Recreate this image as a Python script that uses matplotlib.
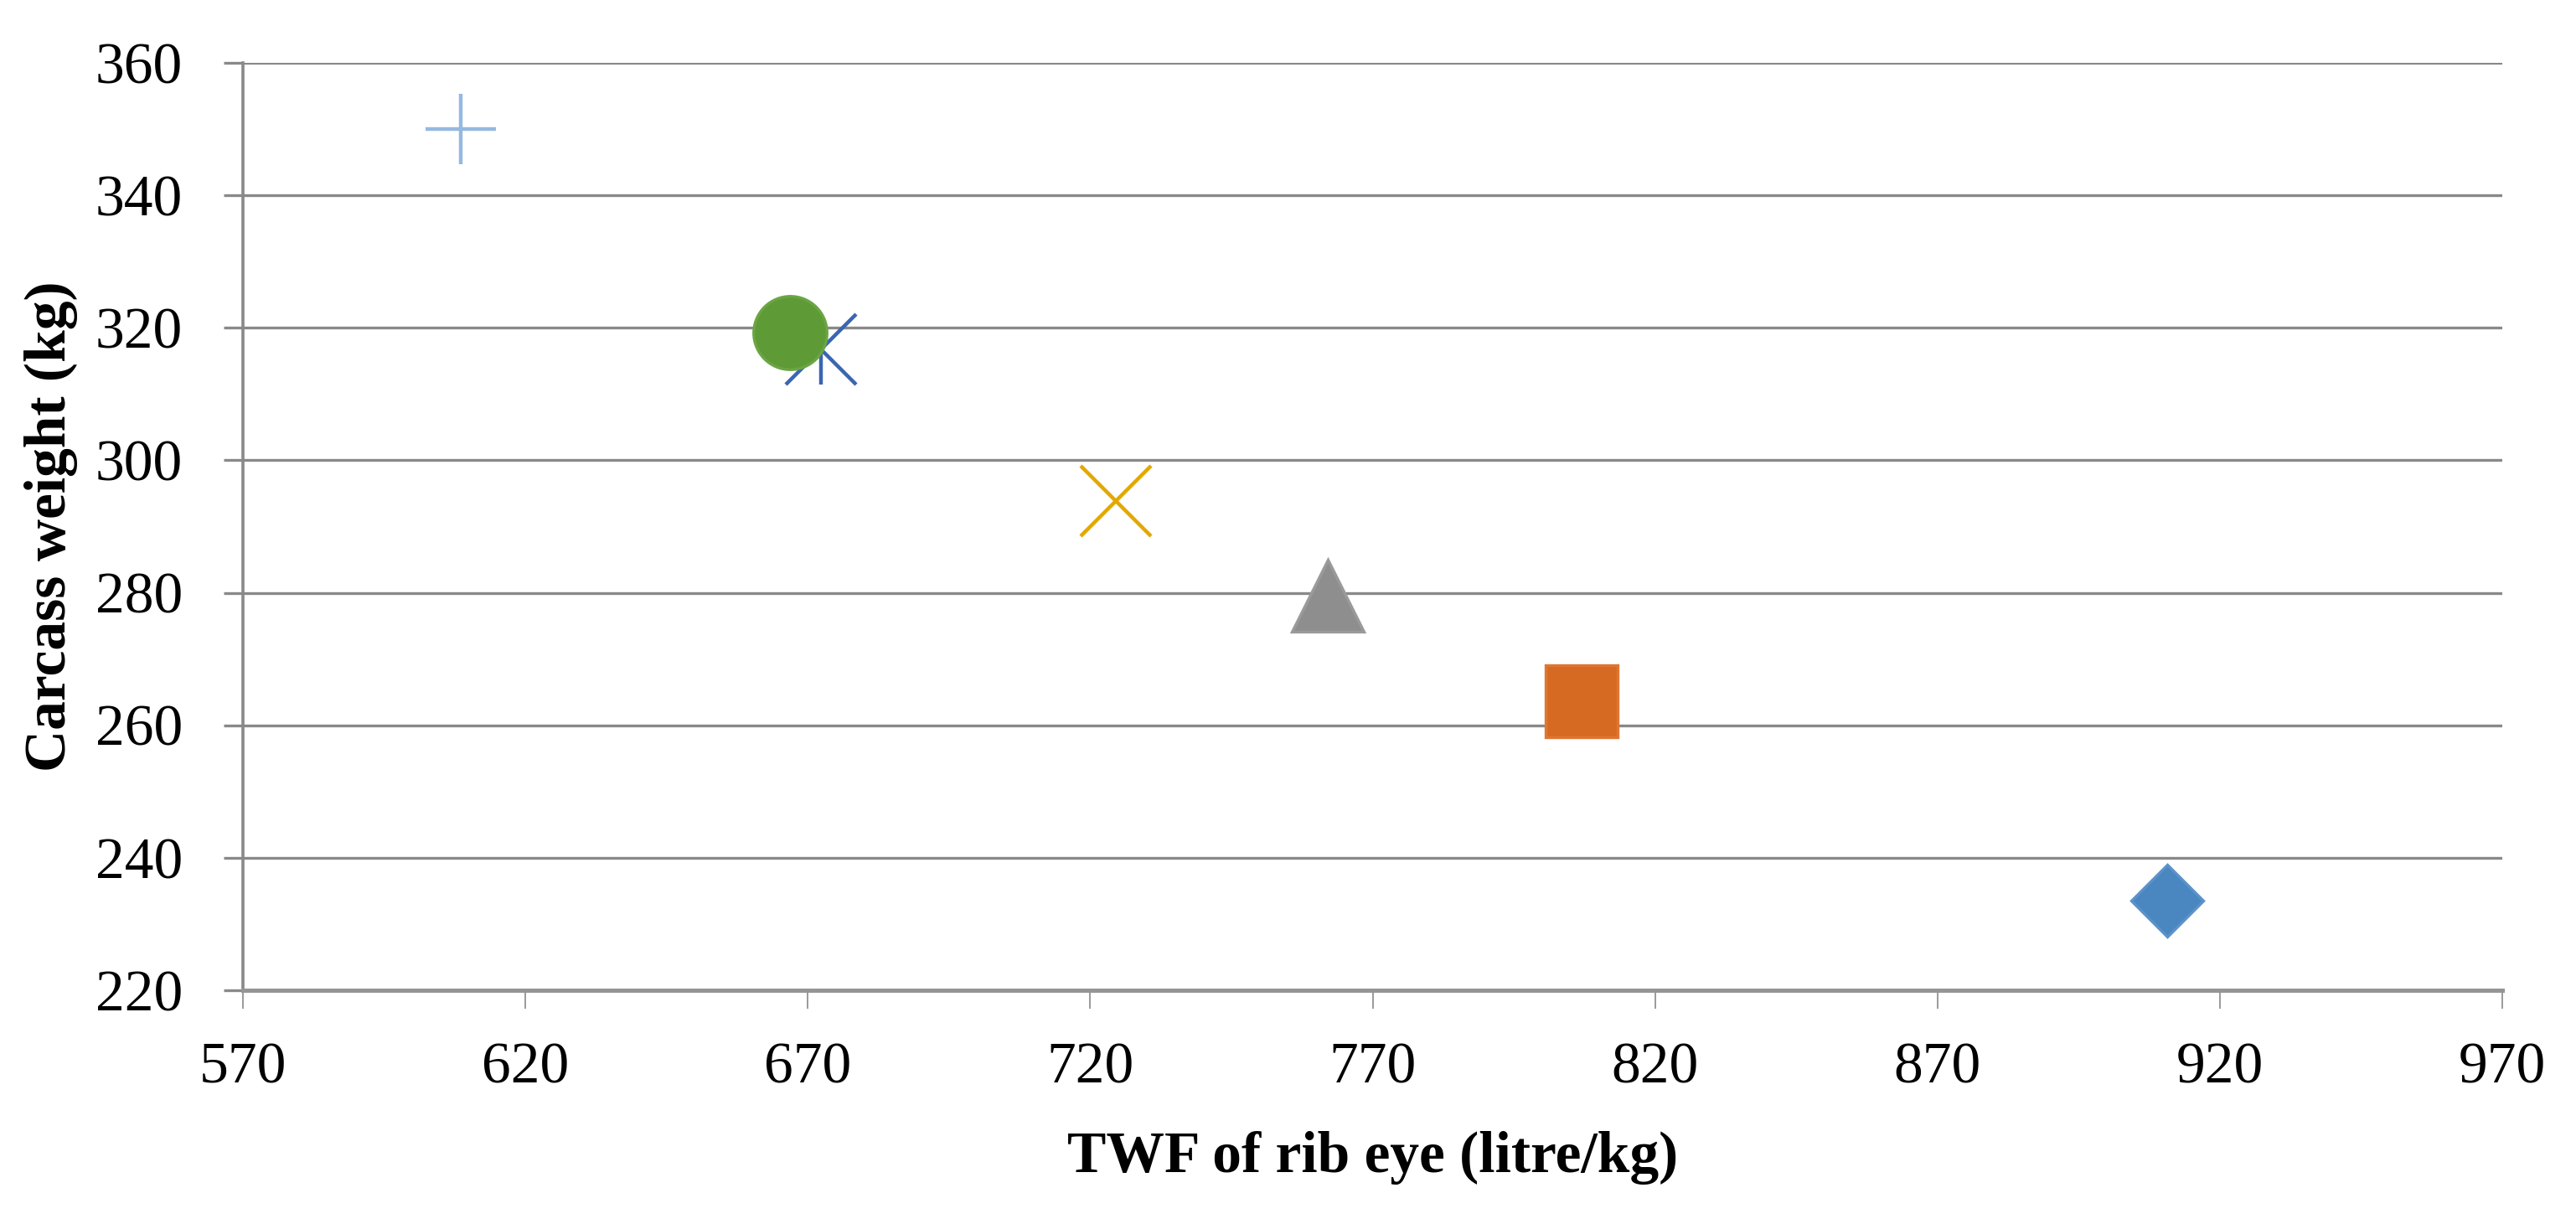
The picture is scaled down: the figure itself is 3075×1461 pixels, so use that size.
import matplotlib

matplotlib.use("Agg")
import matplotlib.pyplot as plt

# TWF of rib eye vs carcass weight, one point per group (Excel default marker order)
twf_values = [910.7, 807.0, 762.0, 724.5, 672.3, 666.8, 608.6]
weight_values = [233.5, 263.6, 279.5, 293.8, 316.8, 319.3, 350.0]
x_ticks = [570, 620, 670, 720, 770, 820, 870, 920, 970]
y_ticks = [220, 240, 260, 280, 300, 320, 340, 360]

# marker, face colour, edge colour, size (pt), edge width
styles = [
    ("D", "#4A86C0", "#5A92CA", 22.0, 1.2),
    ("s", "#D76A22", "#DF7632", 31.0, 1.2),
    ("^", "#8E8E8E", "#9A9A9A", 31.0, 1.2),
    ("x", "#E3A800", "#E3A800", 30.0, 1.6),
    ("star", "#3B65B0", "#3B65B0", 30.0, 1.6),
    ("o", "#5E9A36", "#6BA544", 31.5, 1.2),
    ("+", "#95B8E0", "#95B8E0", 30.0, 1.6),
]

grid_color = "#898989"
plt.rcParams["font.family"] = ["Liberation Serif", "DejaVu Serif"]

fig = plt.figure(figsize=(15.375, 7.305), dpi=200)
ax = fig.add_axes([0.0943, 0.191, 0.8771, 0.7577])

for x, y, (marker, face, edge, size, lw) in zip(twf_values, weight_values, styles):
    if marker == "star":
        # Excel "star" = diagonal cross plus vertical bar
        ax.plot([x], [y], linestyle="none", marker="x", markersize=size,
                markeredgecolor=edge, markeredgewidth=lw, zorder=3)
        ax.plot([x], [y], linestyle="none", marker="|", markersize=size,
                markeredgecolor=edge, markeredgewidth=lw, zorder=3)
    elif marker in ("x", "+"):
        ax.plot([x], [y], linestyle="none", marker=marker, markersize=size,
                markeredgecolor=edge, markeredgewidth=lw, zorder=3)
    else:
        ax.plot([x], [y], linestyle="none", marker=marker, markersize=size,
                markerfacecolor=face, markeredgecolor=edge, markeredgewidth=lw, zorder=3)

ax.set_xlim(570, 970)
ax.set_ylim(220, 360)
ax.set_xticks(x_ticks)
ax.set_yticks(y_ticks)
ax.set_xticklabels([str(v) for v in x_ticks])
ax.set_yticklabels([str(v) for v in y_ticks])

ax.yaxis.grid(True, color=grid_color, linewidth=1.2)
ax.set_axisbelow(True)

for side in ("top", "right"):
    ax.spines[side].set_visible(False)
ax.spines["left"].set_color(grid_color)
ax.spines["left"].set_linewidth(1.3)
ax.spines["bottom"].set_color("#959595")
ax.spines["bottom"].set_linewidth(1.8)

ax.tick_params(axis="x", direction="out", length=8, width=0.6, color=grid_color,
               labelsize=25, pad=14.5)
ax.tick_params(axis="y", direction="out", length=8.3, width=1.2, color=grid_color,
               labelsize=25, pad=17.5)

ax.set_xlabel("TWF of rib eye (litre/kg)", fontsize=25, fontweight="bold")
ax.set_ylabel("Carcass weight (kg)", fontsize=25, fontweight="bold")
ax.xaxis.set_label_coords(0.5, -0.152)
ax.yaxis.set_label_coords(-0.073, 0.5)

fig.savefig("out.png", dpi=200)
plt.close(fig)
